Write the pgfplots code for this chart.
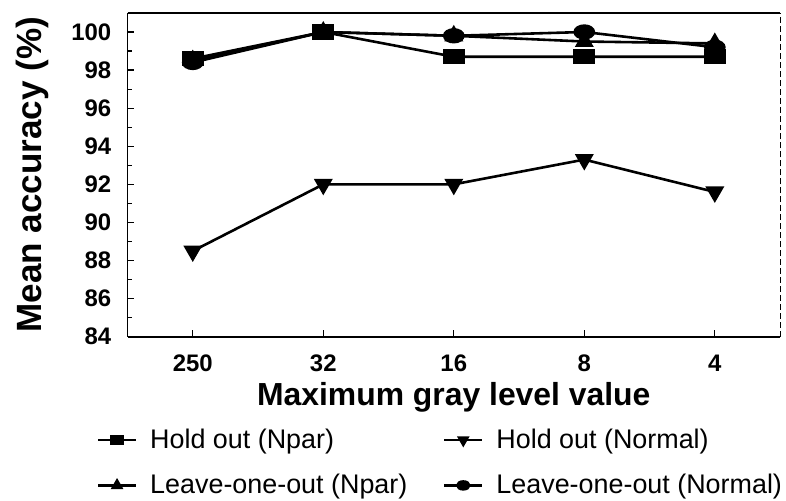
\documentclass[border=0pt]{standalone}
\usepackage{pgfplots}
\pgfplotsset{compat=1.18}
\usepackage{fontspec}
\setmainfont{Liberation Sans}

\begin{document}
\begin{tikzpicture}
\begin{axis}[
  name=ax,
  scale only axis,
  clip=false,
  width=327.5pt, height=162.5pt,
  xmin=-0.5, xmax=4.5,
  ymin=84, ymax=101,
  xtick={0,1,2,3,4},
  xticklabels={250,32,16,8,4},
  ytick={84,86,...,100},
  minor ytick={85,87,...,99},
  axis x line*=box,
  axis y line*=left,
  xtick pos=bottom,
  ytick pos=left,
  tick align=inside,
  major tick length=3.5pt,
  minor tick length=2pt,
  tick style={black, line width=0.6pt},
  axis line style={black, line width=0.9pt},
  /pgf/number format/assume math mode=true,
  ticklabel style={font=\fontsize{12}{12}\selectfont\bfseries},
  yticklabel style={anchor=east, inner sep=0pt, xshift=-8pt},
  xticklabel style={yshift=-5.5pt},
  xlabel={Maximum gray level value},
  ylabel={Mean accuracy (\%)},
  xlabel style={font=\fontsize{16}{16}\selectfont\bfseries, yshift=1.5pt},
  every axis y label/.style={
    at={([xshift=-56pt]axis description cs:0,0.5)},
    rotate=90, anchor=north, inner sep=0pt,
    font=\fontsize{17.6}{17.6}\selectfont\bfseries},
  legend columns=2,
  legend cell align=left,
  legend style={
    at={(0,0)}, anchor=north west,
    xshift=-15.5pt, yshift=-44pt,
    draw=none, fill=none, inner sep=0pt,
    font=\fontsize{13.5}{14}\selectfont,
    /tikz/every even column/.append style={column sep=16pt},
    row sep=7.5pt,
  },
  legend image code/.code={
    \draw[#1, line width=1.1pt, mark size=2.6pt] (0pt,0pt) -- (19pt,0pt)
      plot coordinates {(9.5pt,0pt)};
    \path (23.5pt,0pt);
  },
  every axis plot/.append style={line width=1.3pt},
]
% Hold out, nonparametric
\addplot[black, mark=square*, mark size=4pt, mark options={solid, fill=black, xscale=1.2, yscale=0.8}] coordinates {
  (0,98.6) (1,100) (2,98.7) (3,98.7) (4,98.7)};
\addlegendentry{Hold out (Npar)}
% Hold out, normal
\addplot[black, mark=triangle*, mark size=4.2pt, mark options={solid, fill=black, rotate=180}] coordinates {
  (0,88.5) (1,92.0) (2,92.0) (3,93.3) (4,91.6)};
\addlegendentry{Hold out (Normal)}
% Leave-one-out, nonparametric
\addplot[black, mark=triangle*, mark size=4.2pt, mark options={solid, fill=black}] coordinates {
  (0,98.5) (1,100) (2,99.8) (3,99.5) (4,99.4)};
\addlegendentry{Leave-one-out (Npar)}
% Leave-one-out, normal
\addplot[black, mark=*, mark size=4pt, mark options={solid, fill=black, xscale=1.2, yscale=0.8}] coordinates {
  (0,98.4) (1,100) (2,99.8) (3,100) (4,99.2)};
\addlegendentry{Leave-one-out (Normal)}
% thin dashed right border
\draw[black, line width=0.4pt, dash pattern=on 3pt off 1.5pt]
  (rel axis cs:1,0) -- (rel axis cs:1,1);
\end{axis}
% page margins around the frame
\path ([xshift=-64pt, yshift=6.5pt]ax.north west);
\path ([xshift=1.5pt]ax.south east);
\end{tikzpicture}
\end{document}
